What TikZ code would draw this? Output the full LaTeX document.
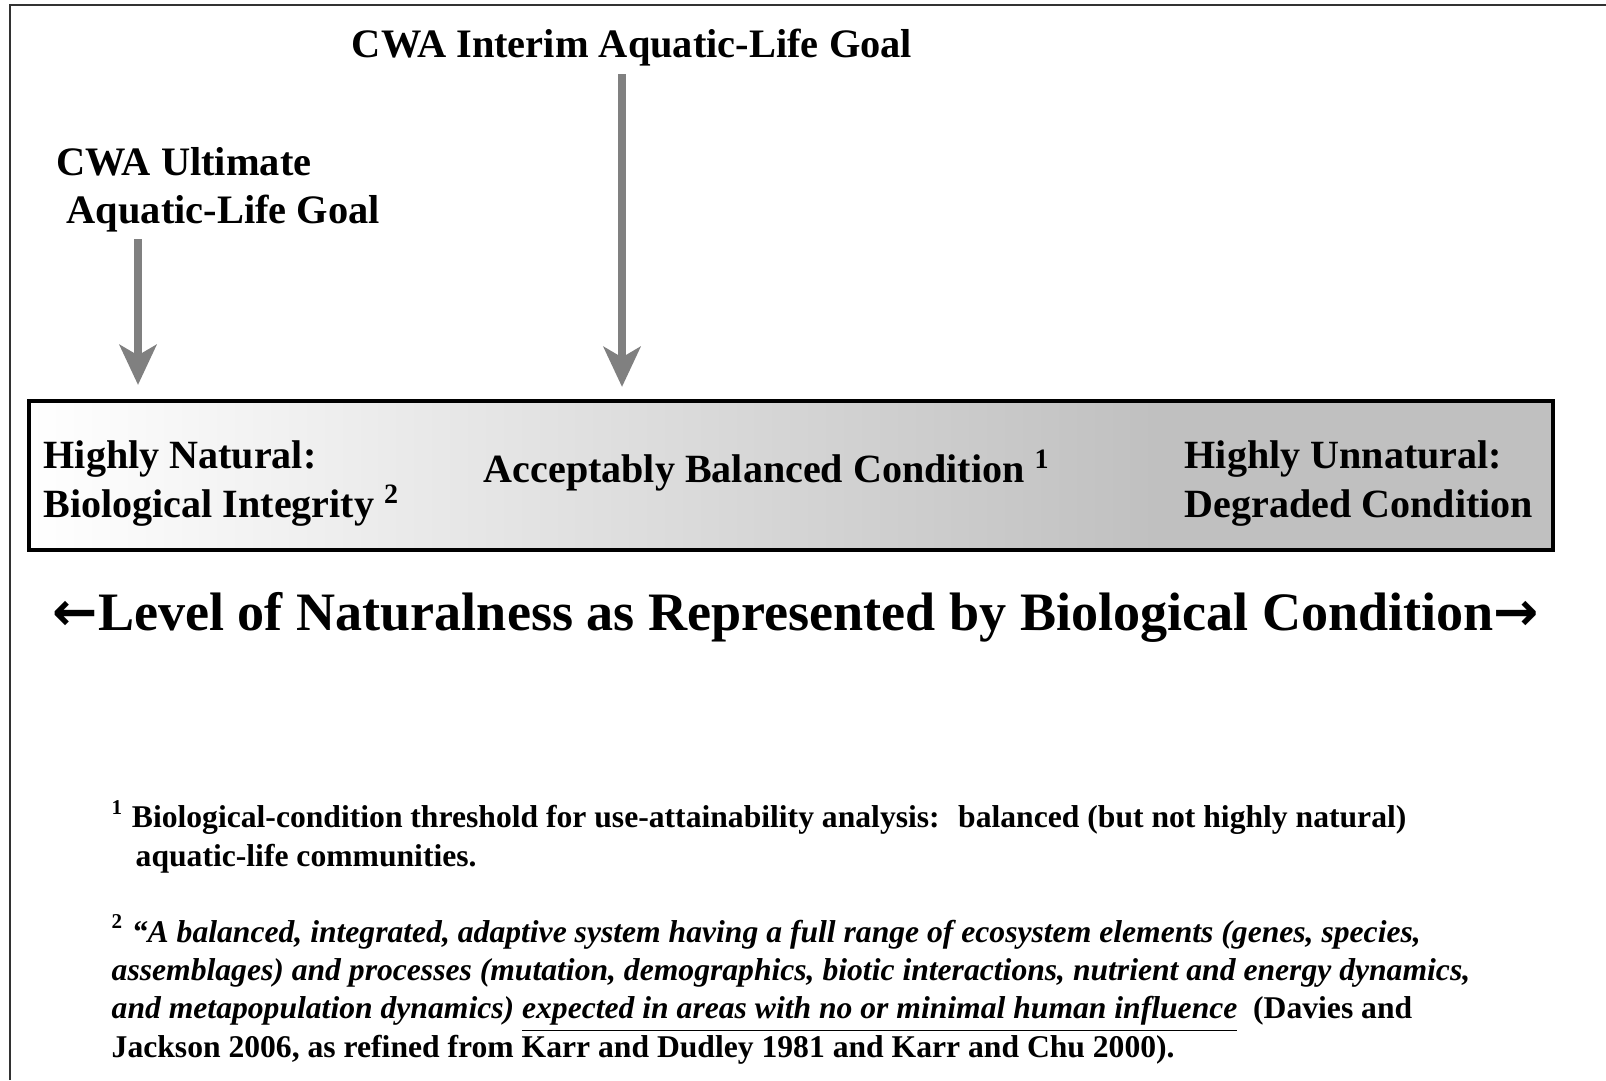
\documentclass[tikz,border=0pt]{standalone}
\usepackage{fontspec}
\setmainfont{Liberation Serif}
\newfontfamily\arrowfont{DejaVu Sans}
\usepackage{xcolor}
\usepackage{tikz}
\usetikzlibrary{arrows.meta,positioning,calc}
\definecolor{clrArrow}{RGB}{128,128,128}
\definecolor{clrFrame}{RGB}{50,50,50}
\definecolor{clrDeg}{RGB}{192,192,192}
\pgfdeclarehorizontalshading{natshade}{100bp}{%
  color(0bp)=(white); color(25bp)=(white); color(62bp)=(clrDeg); color(100bp)=(clrDeg)}
\tikzset{
  goal/.style={font=\fontsize{11.5}{13.7}\selectfont\bfseries,align=left,inner sep=0pt},
  bandbox/.style={rectangle,draw=black,line width=1.2pt,shading=natshade,
    minimum width=15.24cm,minimum height=1.49cm,inner sep=0pt},
  condition/.style={font=\fontsize{11.4}{13.9}\selectfont\bfseries,align=left,inner sep=0pt},
  axislabel/.style={font=\fontsize{15.4}{18}\selectfont\bfseries,inner sep=0pt},
  note/.style={font=\fontsize{9.0}{10.87}\selectfont\bfseries,align=left,inner sep=0pt},
  goalarrow/.style={-{Stealth[length=11.4pt,width=10.5pt,inset=3pt]},line width=2pt,color=clrArrow},
  frame/.style={line width=0.7pt,color=clrFrame}
}

\begin{document}
\begin{tikzpicture}[x=1cm,y=1cm]
  \fill[white] (0,0) rectangle (16.06,-10.80);
  \useasboundingbox (0,0) rectangle (16.06,-10.80);

  \draw[frame] (0.10,-10.80) -- (0.10,-0.05) -- (16.06,-0.05);

  % goals above the scale
  \node[goal,anchor=base] (interim) at (6.32,-0.58)
    {CWA Interim Aquatic-Life Goal};
  \node[goal,anchor=base west] (ultimate) at (0.56,-2.24)
    {CWA Ultimate\\\hspace*{0.1cm}Aquatic-Life Goal};

  % the scale itself
  \node[bandbox] (band) at (7.91,-4.755) {};
  \node[condition,anchor=base west] (natural) at (0.43,-5.17)
    {Highly Natural:\\Biological Integrity \textsuperscript{2}};
  \node[condition,anchor=base west] (balanced) at (4.83,-4.82)
    {Acceptably Balanced Condition \textsuperscript{1}};
  \node[condition,anchor=base west] (degraded) at (11.84,-5.17)
    {Highly Unnatural:\\Degraded Condition};

  \node[axislabel,anchor=base] (axis) at (7.96,-6.30)
    {{\arrowfont ←}Level of Naturalness as Represented by Biological Condition{\arrowfont →}};

  \coordinate (ultx) at (1.38,0);
  \coordinate (intx) at (6.22,0);
  \draw[goalarrow]
    ($(ultimate.south -| ultx)+(0,-0.06)$) -- ($(band.north -| ultx)+(0,0.14)$);
  \draw[goalarrow]
    ($(interim.south -| intx)+(0,-0.07)$) -- ($(band.north -| intx)+(0,0.12)$);

  % footnotes
  \node[note,anchor=base west] (note1) at (1.11,-8.66)
    {\textsuperscript{1} Biological-condition threshold for use-attainability analysis:~ balanced (but not highly natural)\\
     \hspace*{0.24cm}aquatic-life communities.};
  \node[note,anchor=base west] (note2) at (1.11,-10.57)
    {\textsuperscript{2} \textit{“A balanced, integrated, adaptive system having a full range of ecosystem elements (genes, species,}\\
     \textit{assemblages) and processes (mutation, demographics, biotic interactions, nutrient and energy dynamics,}\\
     \textit{and metapopulation dynamics) \underline{expected in areas with no or minimal human influence}}~ (Davies and\\
     Jackson 2006, as refined from Karr and Dudley 1981 and Karr and Chu 2000).};
\end{tikzpicture}
\end{document}
